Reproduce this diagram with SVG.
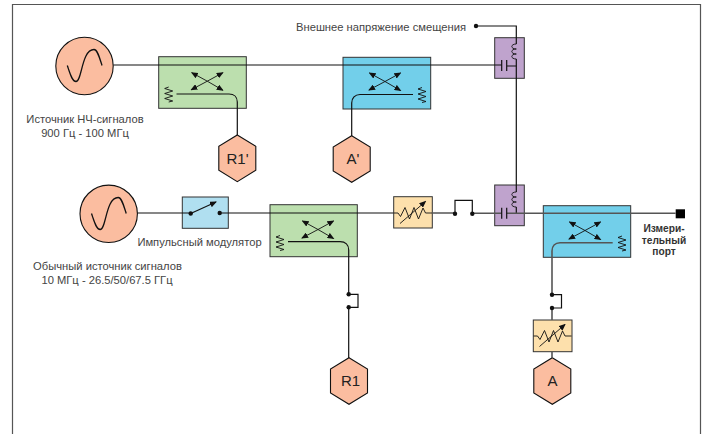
<svg xmlns="http://www.w3.org/2000/svg" width="707" height="434" viewBox="0 0 707 434">
<style>
text{font-family:"Liberation Sans",Arial,sans-serif;font-size:11.2px;fill:#444;text-anchor:middle}
.w{fill:none;stroke:#111;stroke-width:1.2}
.g{fill:none;stroke:#555;stroke-width:1.6}
.t{fill:none;stroke:#111;stroke-width:.9}
.bx{stroke:#333;stroke-width:1}
.peach{fill:#fbbda0;stroke:#111;stroke-width:1.1}
text.hl{font-size:15px;fill:#222}
text.p{font-weight:bold;font-size:10.2px;fill:#333}
.d{fill:#111}
</style>
<defs>
<marker id="ah" markerWidth="7" markerHeight="6" refX="6" refY="3" orient="auto" markerUnits="userSpaceOnUse"><path d="M0 0L7 3L0 6Z" fill="#111"/></marker>
<g id="cross"><path class="t" d="M0 .5L-15.500-8" marker-end="url(#ah)"/><path class="t" d="M0 .5L15.500-8" marker-end="url(#ah)"/><path class="t" d="M0 .5L-16 9" marker-end="url(#ah)"/><path class="t" d="M0 .5L15.500 9.500" marker-end="url(#ah)"/></g>
<path id="res" class="t" d="M0-7.500L-4-6L4-3.500L-4-1L4 1.500L-4 4L4 6.500L0 7.500"/>
<path id="hex" class="peach" d="M0-23.300L18.500-12V12L0 23.300L-18.500 12V-12Z"/>
<path id="sine" d="M-17.200 0C-14.500 8-12.500 16-8.500 16C-2.500 16-3-16 9.500-16C13-16 15-8 17.500 0" fill="none" stroke="#111" stroke-width="1.3"/>
<g id="atten"><path class="t" d="M-19 0H-15L-12.500 3.500L-8-5.500L-3.500 6L1-5.500L5.500 6L10-5L12.500 0H19"/><path class="t" d="M-13 10.500L12.500-11.500" marker-end="url(#ah)"/></g>
<path id="ind" class="t" d="M0 0C-6 0-6 5 0 5C-6 5-6 10 0 10C-6 10-6 15 0 15"/>
</defs>
<rect width="707" height="434" fill="#fff"/>
<path d="M12.500 434V4.500H700.500V434" fill="none" stroke="#555" stroke-width="1.200"/>

<g id="src1"><circle class="peach" cx="84.500" cy="66" r="28.700"/><use href="#sine" x="84.500" y="65.500"/></g>
<g id="coupler1"><rect class="bx" x="158.700" y="56.700" width="87.600" height="51.600" fill="#bcdfae"/><use href="#cross" x="207.300" y="80.700"/><use href="#res" x="168.700" y="94.500"/></g>
<g id="r1p"><use href="#hex" x="237.300" y="158.300"/><text class="hl" x="237.500" y="163.500">R1'</text></g>
<g id="coupler2"><rect class="bx" x="343" y="57.300" width="87.700" height="51.700" fill="#72cfea"/><use href="#cross" x="385" y="81"/><use href="#res" x="422" y="95"/></g>
<g id="ap"><use href="#hex" x="351.700" y="159"/><text class="hl" x="353" y="163.500">A'</text></g>
<g id="bias1"><rect class="bx" x="494.700" y="37.700" width="29.600" height="40.600" fill="#bfa3cd"/><use href="#ind" x="516.300" y="44"/></g>
<g id="bias2"><rect class="bx" x="494.700" y="185" width="29.600" height="40.700" fill="#bfa3cd"/><use href="#ind" x="516.300" y="192"/></g>
<g id="src2"><circle class="peach" cx="108.700" cy="213.800" r="28.700"/><use href="#sine" x="108.700" y="213.500"/></g>
<g id="modulator"><rect class="bx" x="182.300" y="197" width="46" height="31.300" fill="#b0dff0"/><circle class="d" cx="190.700" cy="213.500" r="2.200"/><circle class="d" cx="219.700" cy="213" r="2.200"/><path class="w" d="M190.700 213.500L216 202" marker-end="url(#ah)"/></g>
<g id="coupler3"><rect class="bx" x="270" y="204.700" width="87.300" height="52" fill="#bcdfae"/><use href="#cross" x="318" y="229"/><use href="#res" x="280" y="243"/></g>
<g id="atten1"><rect class="bx" x="393.700" y="196.700" width="38.600" height="31.300" fill="#fde0ac"/><use href="#atten" x="413" y="213"/></g>
<g id="coupler4"><rect class="bx" x="543.300" y="205.700" width="87.400" height="51.600" fill="#72cfea"/><use href="#cross" x="585" y="230"/><use href="#res" x="622" y="243.500"/></g>
<g id="port"><rect x="675.700" y="209.300" width="9.300" height="9" fill="#000"/><text class="p" x="664" y="232">Измери-</text><text class="p" x="664" y="243.500">тельный</text><text class="p" x="664" y="255">порт</text></g>
<g id="atten2"><rect class="bx" x="533.300" y="320" width="38.700" height="31.700" fill="#fde0ac"/><use href="#atten" x="552.500" y="336"/></g>
<g id="r1"><use href="#hex" x="349" y="381"/><text class="hl" x="350.500" y="385.500">R1</text></g>
<g id="a"><use href="#hex" x="552.300" y="381"/><text class="hl" x="552.500" y="385.500">A</text></g>

<g id="connectors">
<path class="w" d="M113.300 65H501.700M506.700 66H516.300M501.700 60V71M506.700 60V71"/>
<path class="w" d="M474.500 26H516.300V44M516.300 59V192M516.300 207V213"/>
<circle class="d" cx="476" cy="26" r="2.200"/>
<path class="w" d="M176.500 94H229C234 94 237.300 97 237.300 102V135"/>
<path class="w" d="M413 94.500H360C355 94.500 351.700 98 351.700 103V136"/>
<path class="w" d="M137.400 213H190.700M219.700 213H393.700"/>
<path class="w" d="M288 241.700H340C345.500 241.700 348.700 245 348.700 250V294.300M348.700 307.300V358"/>
<path class="w" d="M348.700 294.300H358V307.300H348.700"/>
<circle class="d" cx="348.700" cy="294.300" r="2.200"/><circle class="d" cx="348.700" cy="307.300" r="2.200"/>
<path class="g" d="M432.300 213H455M472.300 213.300H501.700M506.700 213.300H675.700"/>
<path class="w" d="M501.700 207.700V218.700M506.700 207.700V218.700"/>
<path class="w" d="M455 213.500V200.300H472.300V213.500"/>
<circle class="d" cx="455" cy="213.700" r="2.200"/><circle class="d" cx="472.300" cy="213.700" r="2.200"/>
<path class="g" d="M612.700 242.700H560C555 242.700 552 246 552 251V294.700M552 308V320M552 351.700V358"/>
<path class="w" d="M552 294.700H561.500V308H552"/>
<circle class="d" cx="552" cy="294.700" r="2.200"/><circle class="d" cx="552" cy="308" r="2.200"/>
</g>

<text x="85" y="123">Источник НЧ-сигналов</text>
<text x="85" y="137">900 Гц - 100 МГц</text>
<text x="381" y="31">Внешнее напряжение смещения</text>
<text x="199.500" y="246">Импульсный модулятор</text>
<text x="107.500" y="270">Обычный источник сигналов</text>
<text x="107" y="284">10 МГц - 26.5/50/67.5 ГГц</text>
</svg>
